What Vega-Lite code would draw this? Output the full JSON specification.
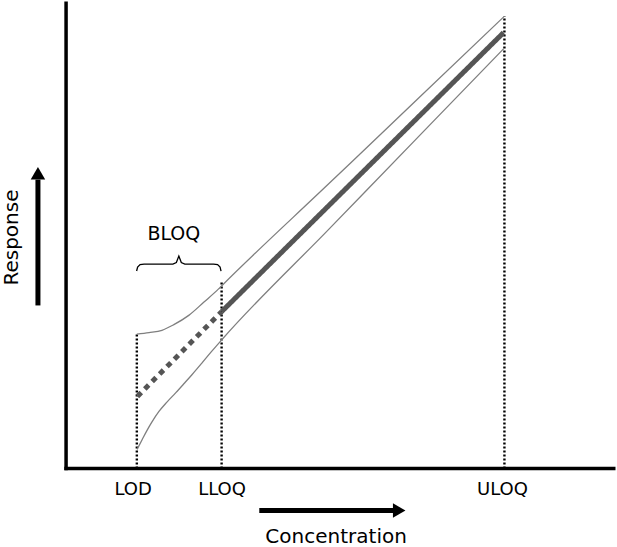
{
  "$schema": "https://vega.github.io/schema/vega-lite/v6.json",
  "width": 617,
  "height": 547,
  "autosize": {"type": "fit", "contains": "padding"},
  "padding": 0,
  "background": "white",
  "config": {"view": {"stroke": null}, "font": "DejaVu Sans"},
  "datasets": {
    "limits": [
      {"limit": "LOD", "c": 16.15, "r": 0, "c2": 16.15, "r2": 30.7},
      {"limit": "LLOQ", "c": 35.5, "r": 0, "c2": 35.5, "r2": 42.6},
      {"limit": "ULOQ", "c": 100.05, "r": 0, "c2": 100.05, "r2": 103.4}
    ],
    "bounds": [
      {"bound": "upper", "c": 16.15, "r": 30.73},
      {"bound": "upper", "c": 18.93, "r": 31.07},
      {"bound": "upper", "c": 21.88, "r": 31.59},
      {"bound": "upper", "c": 24.6, "r": 32.88},
      {"bound": "upper", "c": 28.0, "r": 34.99},
      {"bound": "upper", "c": 31.41, "r": 37.98},
      {"bound": "upper", "c": 34.81, "r": 41.04},
      {"bound": "upper", "c": 35.49, "r": 41.72},
      {"bound": "upper", "c": 60, "r": 65.1},
      {"bound": "upper", "c": 80, "r": 84.18},
      {"bound": "upper", "c": 99.89, "r": 103.17},
      {"bound": "lower", "c": 16.21, "r": 4.38},
      {"bound": "lower", "c": 17.35, "r": 6.58},
      {"bound": "lower", "c": 18.48, "r": 8.73},
      {"bound": "lower", "c": 19.61, "r": 10.66},
      {"bound": "lower", "c": 21.2, "r": 13.04},
      {"bound": "lower", "c": 23.02, "r": 15.19},
      {"bound": "lower", "c": 25.06, "r": 17.35},
      {"bound": "lower", "c": 27.1, "r": 19.61},
      {"bound": "lower", "c": 28.68, "r": 21.38},
      {"bound": "lower", "c": 30.95, "r": 24.04},
      {"bound": "lower", "c": 33.22, "r": 26.76},
      {"bound": "lower", "c": 35.49, "r": 29.37},
      {"bound": "lower", "c": 60, "r": 54.7},
      {"bound": "lower", "c": 80, "r": 75.37},
      {"bound": "lower", "c": 99.89, "r": 95.92}
    ],
    "fit": [
      {"part": "extrapolated", "c": 16.28, "r": 16.49},
      {"part": "extrapolated", "c": 35.49, "r": 35.83},
      {"part": "quantified", "c": 35.49, "r": 35.83},
      {"part": "quantified", "c": 99.85, "r": 99.58}
    ],
    "brace": [
      {"i": 0, "c": 16.1, "r": 45.12},
      {"i": 1, "c": 16.33, "r": 46.03},
      {"i": 2, "c": 16.89, "r": 46.6},
      {"i": 3, "c": 17.8, "r": 46.71},
      {"i": 4, "c": 24.38, "r": 46.71},
      {"i": 5, "c": 25.17, "r": 47.05},
      {"i": 6, "c": 25.74, "r": 48.53},
      {"i": 7, "c": 26.3, "r": 47.05},
      {"i": 8, "c": 27.1, "r": 46.71},
      {"i": 9, "c": 33.67, "r": 46.71},
      {"i": 10, "c": 34.58, "r": 46.6},
      {"i": 11, "c": 35.15, "r": 46.03},
      {"i": 12, "c": 35.37, "r": 45.12}
    ],
    "axes": [
      {"axis": "response", "c": 0, "r": 0, "c2": 0, "r2": 106.3},
      {"axis": "concentration", "c": 0, "r": 0, "c2": 125, "r2": 0}
    ],
    "shafts": [
      {"arrow": "Concentration", "c": 44.1, "r": -9.59, "c2": 75.0, "r2": -9.59},
      {"arrow": "Response", "c": -6.42, "r": 37.26, "c2": -6.42, "r2": 66.0}
    ],
    "heads": [
      {"dir": "right", "c": 76.03, "r": -9.59},
      {"dir": "up", "c": -6.42, "r": 67.46}
    ],
    "limitLabels": [
      {"label": "LOD", "c": 15.31, "r": -6.05},
      {"label": "LLOQ", "c": 35.6, "r": -6.05},
      {"label": "ULOQ", "c": 99.6, "r": -6.05}
    ],
    "bloq": [{"label": "BLOQ", "c": 24.6, "r": 52.2}],
    "xTitle": [{"label": "Concentration", "c": 61.63, "r": -17.0}],
    "yTitle": [{"label": "Response", "c": -10.9, "r": 52.77}]
  },
  "encoding": {
    "x": {"field": "c", "type": "quantitative", "scale": {"domain": [-15.08, 124.83], "nice": false, "zero": false}, "axis": null},
    "y": {"field": "r", "type": "quantitative", "scale": {"domain": [-17.23, 106.8], "nice": false, "zero": false}, "axis": null}
  },
  "layer": [
    {
      "data": {"name": "limits"},
      "mark": {"type": "rule", "color": "black", "strokeWidth": 2.4, "strokeDash": [2, 2]},
      "encoding": {"x2": {"field": "c2"}, "y2": {"field": "r2"}}
    },
    {
      "data": {"name": "bounds"},
      "mark": {"type": "line", "color": "#7f7f7f", "strokeWidth": 1.3, "interpolate": "monotone"},
      "encoding": {"detail": {"field": "bound", "type": "nominal"}}
    },
    {
      "data": {"name": "fit"},
      "mark": {"type": "line", "color": "#555555", "strokeWidth": 5},
      "encoding": {
        "detail": {"field": "part", "type": "nominal"},
        "strokeDash": {"field": "part", "type": "nominal", "scale": {"domain": ["quantified", "extrapolated"], "range": [[1, 0], [5.5, 5]]}, "legend": null}
      }
    },
    {
      "data": {"name": "brace"},
      "mark": {"type": "line", "color": "black", "strokeWidth": 1.3},
      "encoding": {"order": {"field": "i", "type": "quantitative"}}
    },
    {
      "data": {"name": "axes"},
      "mark": {"type": "rule", "color": "black", "strokeWidth": 3.5, "strokeCap": "square"},
      "encoding": {"x2": {"field": "c2"}, "y2": {"field": "r2"}}
    },
    {
      "data": {"name": "shafts"},
      "mark": {"type": "rule", "color": "black", "strokeWidth": 5},
      "encoding": {"x2": {"field": "c2"}, "y2": {"field": "r2"}}
    },
    {
      "data": {"name": "heads"},
      "mark": {"type": "point", "filled": true, "color": "black", "opacity": 1, "size": 210, "strokeWidth": 0},
      "encoding": {
        "shape": {"field": "dir", "type": "nominal", "scale": {"domain": ["right", "up"], "range": ["triangle-right", "triangle-up"]}, "legend": null}
      }
    },
    {
      "data": {"name": "limitLabels"},
      "mark": {"type": "text", "fontSize": 18, "align": "center", "baseline": "alphabetic", "color": "black"},
      "encoding": {"text": {"field": "label"}}
    },
    {
      "data": {"name": "bloq"},
      "mark": {"type": "text", "fontSize": 19, "align": "center", "baseline": "alphabetic", "color": "black"},
      "encoding": {"text": {"field": "label"}}
    },
    {
      "data": {"name": "xTitle"},
      "mark": {"type": "text", "fontSize": 20, "align": "center", "baseline": "alphabetic", "color": "black"},
      "encoding": {"text": {"field": "label"}}
    },
    {
      "data": {"name": "yTitle"},
      "mark": {"type": "text", "fontSize": 20, "align": "center", "baseline": "alphabetic", "angle": 270, "color": "black"},
      "encoding": {"text": {"field": "label"}}
    }
  ]
}
